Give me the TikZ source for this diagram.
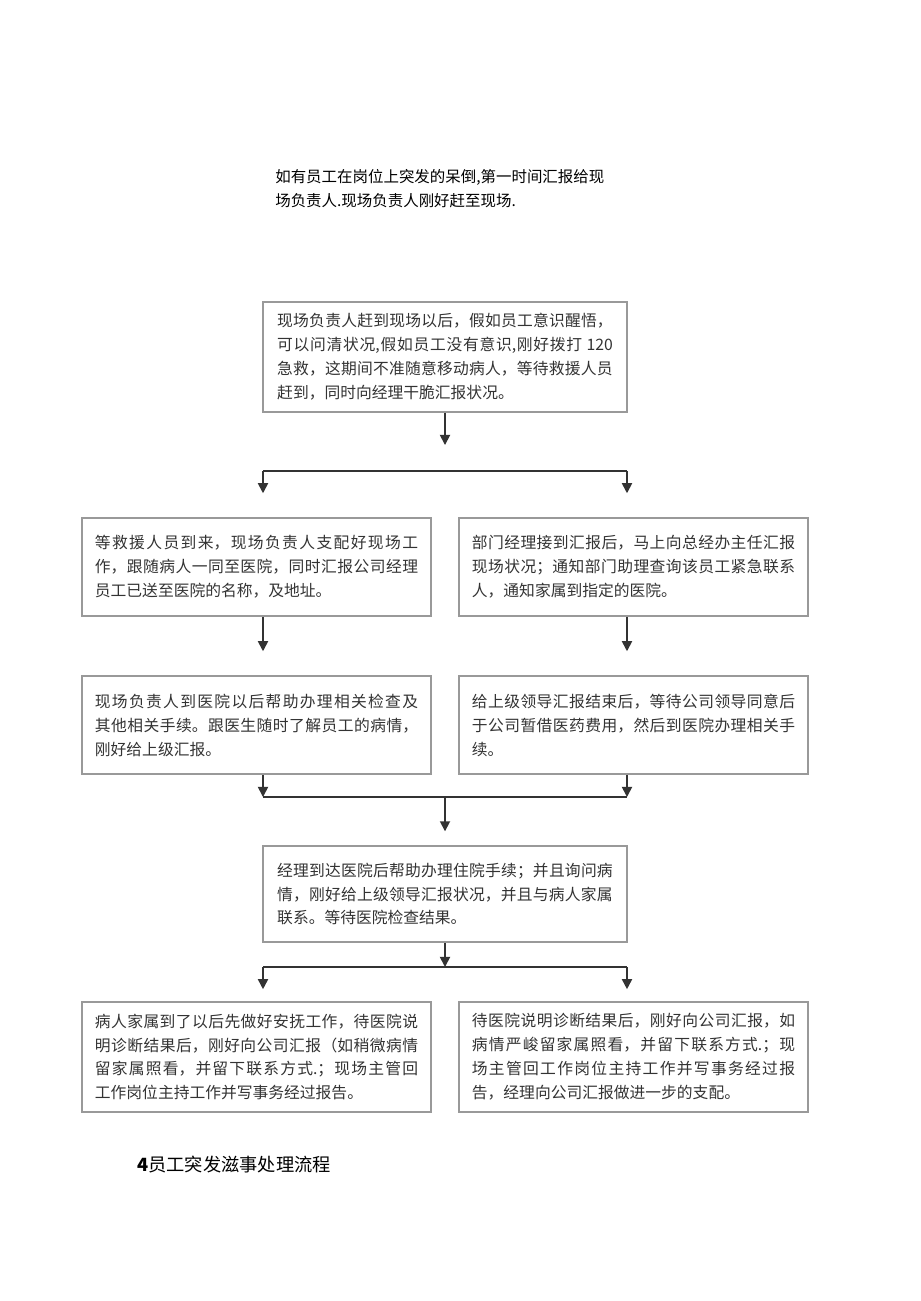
\documentclass[tikz,border=0pt]{standalone}
\usepackage{fontspec}
\setmainfont{Noto Sans CJK SC}
\XeTeXlinebreaklocale "zh"
\XeTeXlinebreakskip=0pt plus 1pt
\usetikzlibrary{arrows.meta}
\tikzset{
  stepbox/.style={draw=black!40, line width=1pt, inner sep=0pt, text=black!80,
    font=\fontsize{10.2}{15.5}\selectfont, align=justify},
  wide/.style={stepbox, minimum width=235.4pt, text width=217pt},
  narrow/.style={stepbox, minimum width=225.7pt, text width=209pt},
  flow/.style={draw=black!80, line width=1.1pt},
  arr/.style={flow, -{Triangle[length=6.5pt,width=6.5pt]}}
}
\begin{document}
\begin{tikzpicture}[x=0.6467pt,y=-0.6467pt]
\useasboundingbox (0,0) rectangle (920,1301);
\node[anchor=north west, align=left, inner sep=0pt, font=\fontsize{10}{15.5}\selectfont] (intro) at (275,169)
  {如有员工在岗位上突发的呆倒,第一时间汇报给现\\场负责人.现场负责人刚好赶至现场.};
\node[wide, minimum height=71.1pt] (hold) at (445,357)
  {现场负责人赶到现场以后，假如员工意识醒悟，\linebreak 可以问清状况,假如员工没有意识,刚好拨打 120\linebreak 急救，这期间不准随意移动病人，等待救援人员\linebreak 赶到，同时向经理干脆汇报状况。};
\node[narrow, minimum height=63.4pt] (escort) at (256.5,567)
  {等救援人员到来，现场负责人支配好现场工\linebreak 作，跟随病人一同至医院，同时汇报公司经理\linebreak 员工已送至医院的名称，及地址。};
\node[narrow, minimum height=63.4pt] (report) at (633.5,567)
  {部门经理接到汇报后，马上向总经办主任汇报\linebreak 现场状况；通知部门助理查询该员工紧急联系\linebreak 人，通知家属到指定的医院。};
\node[narrow, minimum height=63.4pt] (check) at (256.5,725)
  {现场负责人到医院以后帮助办理相关检查及\linebreak 其他相关手续。跟医生随时了解员工的病情，\linebreak 刚好给上级汇报。};
\node[narrow, minimum height=63.4pt] (fund) at (633.5,725)
  {给上级领导汇报结束后，等待公司领导同意后\linebreak 于公司暂借医药费用，然后到医院办理相关手\linebreak 续。};
\node[wide, minimum height=62.1pt] (admit) at (445,894)
  {经理到达医院后帮助办理住院手续；并且询问病\linebreak 情，刚好给上级领导汇报状况，并且与病人家属\linebreak 联系。等待医院检查结果。};
\node[narrow, minimum height=71.1pt] (family) at (256.5,1057)
  {病人家属到了以后先做好安抚工作，待医院说\linebreak 明诊断结果后，刚好向公司汇报（如稍微病情\linebreak 留家属照看，并留下联系方式.；现场主管回\linebreak 工作岗位主持工作并写事务经过报告。};
\node[narrow, minimum height=71.1pt] (result) at (633.5,1057)
  {待医院说明诊断结果后，刚好向公司汇报，如\linebreak 病情严峻留家属照看，并留下联系方式.；现\linebreak 场主管回工作岗位主持工作并写事务经过报\linebreak 告，经理向公司汇报做进一步的支配。};
\node[anchor=west, inner sep=0pt, font=\fontsize{11.8}{14}\selectfont] (title) at (137,1165)
  {\textbf{4}员工突发滋事处理流程};
\coordinate (cl) at (263,0);
\coordinate (cr) at (627,0);
\coordinate (s1) at (445,471);
\coordinate (s2) at (445,797);
\coordinate (s3) at (445,967);
\draw[arr, shorten >=16.8pt] (hold) -- (s1);
\draw[flow] (s1 -| cl) -- (s1 -| cr);
\foreach \c/\u/\v in {cl/escort/check, cr/report/fund} {
  \draw[arr, shorten >=15.5pt] (s1 -| \c) -- (\u.north -| \c);
  \draw[arr, shorten >=15.5pt] (\u.south -| \c) -- (\v.north -| \c);
  \draw[arr] (\v.south -| \c) -- (s2 -| \c);
}
\draw[flow] (s2 -| cl) -- (s2 -| cr);
\draw[arr, shorten >=9pt] (s2) -- (admit);
\draw[arr] (admit) -- (s3);
\draw[flow] (s3 -| cl) -- (s3 -| cr);
\foreach \c/\u in {cl/family, cr/result}
  \draw[arr, shorten >=7.8pt] (s3 -| \c) -- (\u.north -| \c);
\end{tikzpicture}
\end{document}
